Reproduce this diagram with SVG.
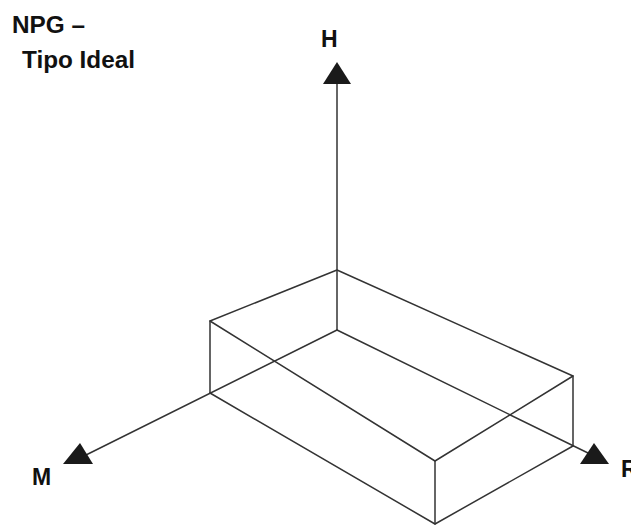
<svg xmlns="http://www.w3.org/2000/svg" width="631" height="525" viewBox="0 0 631 525">
<style>
.ln{fill:none;stroke:#333;stroke-width:1.5;stroke-linecap:round;stroke-linejoin:round}
.ah{fill:#1a1a1a;stroke:none}
.lb{font-family:"Liberation Sans",Arial,sans-serif;font-weight:bold;font-size:23px;fill:#111}
</style>
<rect width="631" height="525" fill="#fff"/>
<g id="title">
<text class="lb" x="12" y="33" textLength="73" lengthAdjust="spacingAndGlyphs">NPG –</text>
<text class="lb" x="22" y="68" textLength="113" lengthAdjust="spacingAndGlyphs">Tipo Ideal</text>
</g>
<g id="connectors">
<line class="ln" x1="337" y1="330" x2="337" y2="80"/>
<polygon class="ah" points="323,84 337,62 351,84"/>
<line class="ln" x1="337" y1="330" x2="86" y2="455"/>
<polygon class="ah" points="63,464 80,443 93,464"/>
<line class="ln" x1="337" y1="330" x2="588" y2="453"/>
<polygon class="ah" points="580,464 594,443 609,464"/>
</g>
<g id="box">
<polyline class="ln" points="210,393 210,321 337,270 573,376 573,446"/>
<polyline class="ln" points="210,321 435,461 573,376"/>
<line class="ln" x1="435" y1="461" x2="435" y2="524"/>
<polyline class="ln" points="210,393 435,524 573,446"/>
</g>
<g id="label-H"><text class="lb" x="321" y="47">H</text></g>
<g id="label-M"><text class="lb" x="32" y="485">M</text></g>
<g id="label-R"><text class="lb" x="621" y="477">R</text></g>
</svg>
